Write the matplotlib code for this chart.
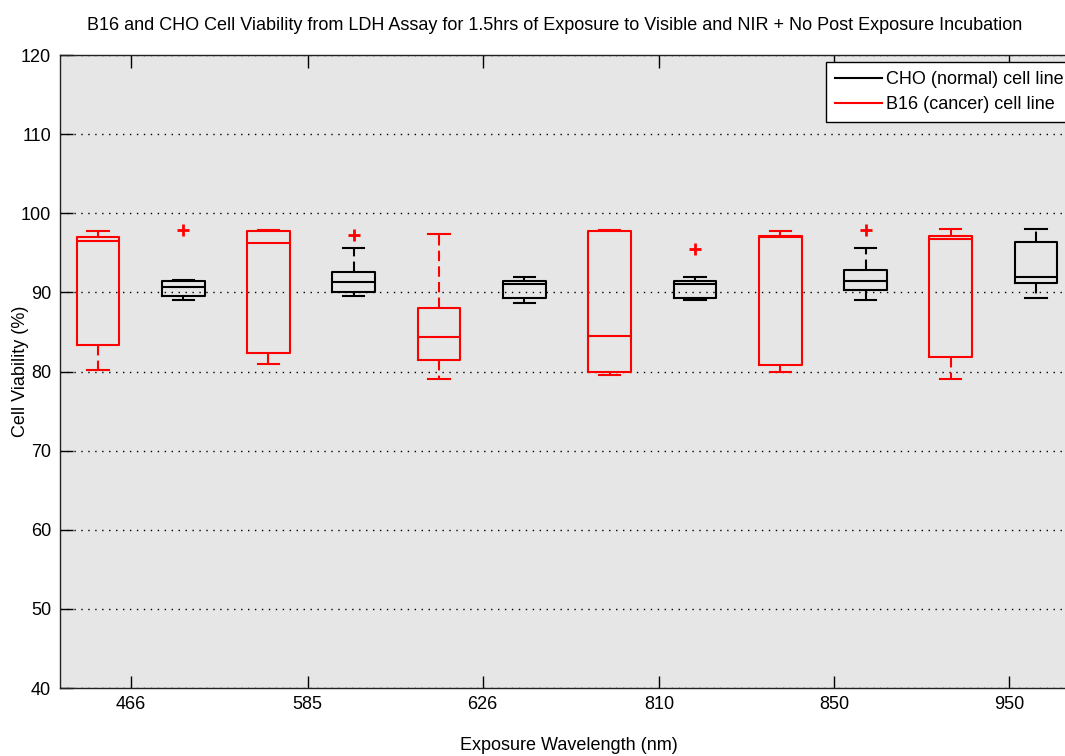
import matplotlib.pyplot as plt
from matplotlib.lines import Line2D

plt.rcParams['font.family'] = ['Liberation Sans', 'DejaVu Sans']

# Wavelengths and box statistics (cell viability, %)
wavelengths = ['466', '585', '626', '810', '850', '950']

b16_low = [80.2, 81.0, 79.1, 79.5, 80.0, 79.1]
b16_q1 = [83.4, 82.3, 81.4, 80.0, 80.8, 81.8]
b16_med = [96.5, 96.3, 84.4, 84.5, 97.0, 96.7]
b16_q3 = [97.05, 97.7, 88.0, 97.7, 97.1, 97.1]
b16_high = [97.7, 97.9, 97.4, 97.9, 97.7, 98.0]
b16_out = [[], [], [], [], [], []]

cho_low = [89.0, 89.5, 88.7, 89.0, 89.1, 89.3]
cho_q1 = [89.6, 90.1, 89.3, 89.3, 90.3, 91.2]
cho_med = [90.7, 91.3, 91.1, 91.1, 91.4, 91.9]
cho_q3 = [91.4, 92.6, 91.4, 91.5, 92.8, 96.4]
cho_high = [91.6, 95.6, 92.0, 92.0, 95.6, 98.0]
cho_out = [[97.9], [97.3], [], [95.5], [97.9], []]

# box slots: B16 at odd slots, CHO at even slots
b16_pos = [1, 3, 5, 7, 9, 11]
cho_pos = [2, 4, 6, 8, 10, 12]
tick_pos = [1.39, 3.46, 5.51, 7.58, 9.63, 11.68]

fs = 13


def make_stats(low, q1, med, q3, high, out):
    return [dict(whislo=a, q1=b, med=c, q3=d, whishi=e, fliers=f)
            for a, b, c, d, e, f in zip(low, q1, med, q3, high, out)]


fig = plt.figure(figsize=(10.65, 7.56), dpi=100)
ax = fig.add_axes([0.0559, 0.0899, 0.957, 0.8373])
ax.set_facecolor('#e6e6e6')

dash = (0, (5, 2.5))
for stats, pos, col in [(make_stats(b16_low, b16_q1, b16_med, b16_q3, b16_high, b16_out), b16_pos, 'red'),
                        (make_stats(cho_low, cho_q1, cho_med, cho_q3, cho_high, cho_out), cho_pos, 'black')]:
    ax.bxp(stats, positions=pos, widths=0.5, showfliers=True,
           boxprops=dict(color=col, linewidth=1.5),
           medianprops=dict(color=col, linewidth=1.5),
           whiskerprops=dict(color=col, linewidth=1.5, linestyle=dash),
           capprops=dict(color=col, linewidth=1.5),
           capwidths=0.25,
           flierprops=dict(marker='+', markeredgecolor='red', markersize=9,
                           markeredgewidth=2, linestyle='none'))

ax.set_xlim(0.55, 12.5)
ax.set_ylim(40, 120)
ax.set_yticks(range(40, 121, 10))
ax.set_xticks(tick_pos)
ax.set_xticklabels(wavelengths)
ax.tick_params(direction='in', length=9, width=1, top=True, right=True,
               labelsize=fs, pad=6)
ax.yaxis.grid(True, linestyle=(0, (1, 4)), color='black', linewidth=1)
ax.set_axisbelow(True)
for sp in ax.spines.values():
    sp.set_color('#222222')
    sp.set_linewidth(1)

ax.set_ylabel('Cell Viability (%)', fontsize=fs)
ax.yaxis.set_label_coords(-0.03, 0.5)
ax.set_xlabel('Exposure Wavelength (nm)', fontsize=fs)
ax.xaxis.set_label_coords(0.5, -0.077)

fig.text(555 / 1065, 1 - 25 / 756,
         'B16 and CHO Cell Viability from LDH Assay for 1.5hrs of Exposure to Visible and NIR + No Post Exposure Incubation',
         ha='center', va='center', fontsize=fs)

handles = [Line2D([], [], color='black', linewidth=1.5),
           Line2D([], [], color='red', linewidth=1.5)]
leg = fig.legend(handles, ['CHO (normal) cell line', 'B16 (cancer) cell line'],
                 loc='upper left', bbox_to_anchor=(826 / 1065, 1 - 62 / 756),
                 fontsize=fs, fancybox=False, framealpha=1, edgecolor='black',
                 handlelength=2.6, handletextpad=0.2, borderpad=0.5,
                 labelspacing=0.45, borderaxespad=0)
leg.get_frame().set_linewidth(1)

fig.savefig('out.png', dpi=100)
